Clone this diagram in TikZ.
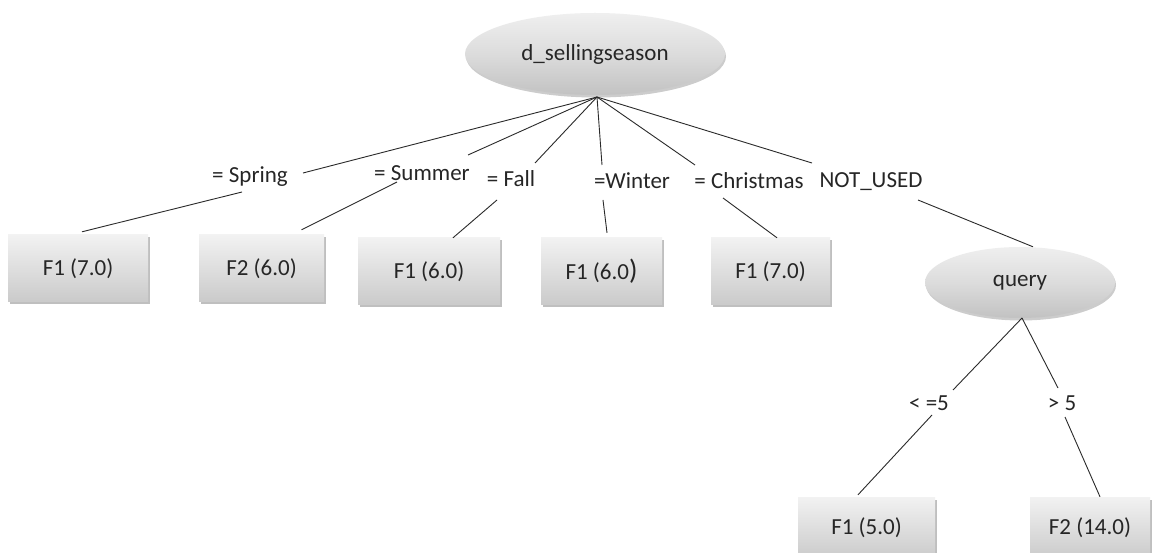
\documentclass[tikz,border=0pt]{standalone}
\usepackage{fontspec}
\setmainfont{Carlito}
\usetikzlibrary{shapes.geometric,shadows}
\definecolor{boxtop}{HTML}{F2F2F2}
\definecolor{boxbot}{HTML}{CACACA}
\definecolor{elltop}{HTML}{EFEFEF}
\definecolor{ellmid}{HTML}{DCDCDC}
\definecolor{ellbot}{HTML}{C2C2C2}
\definecolor{edgecol}{HTML}{2A2A2A}
\tikzset{
  txt/.style={font=\fontsize{23}{27}\selectfont, text=black!85},
  leaf/.style={txt, rectangle, inner sep=0pt, minimum height=67pt,
    top color=boxtop, bottom color=boxbot,
    drop shadow={shadow xshift=1.5pt, shadow yshift=-2.5pt, opacity=0.25, fill=black}},
  decision/.style={txt, ellipse, inner sep=0pt,
    top color=elltop, bottom color=ellbot, middle color=ellmid,
    drop shadow={shadow xshift=1pt, shadow yshift=-2.5pt, opacity=0.2, fill=black}},
  cond/.style={txt, anchor=base, inner sep=0pt},
  edge/.style={draw=edgecol, line width=0.9pt}
}
\begin{document}
\begin{tikzpicture}[x=1pt, y=-1pt]
\useasboundingbox (0,0) rectangle (1154,553);
\fill[white] (0,0) rectangle (1154,553);
\clip (0,0) rectangle (1154,553);

% decision nodes
\node[decision, minimum width=260pt, minimum height=82pt] (root) at (595,54) {d\_sellingseason};
\node[decision, minimum width=190pt, minimum height=71pt] (query) at (1020,282.5) {query};
\coordinate (hub) at (597,97);
\coordinate (qhub) at (1022,318);

% leaves
\node[leaf, minimum width=140pt] (l1) at (78,268.5) {F1 (7.0)};
\node[leaf, minimum width=125pt] (l2) at (261.5,268.5) {F2 (6.0)};
\node[leaf, minimum width=142pt] (l3) at (429,271.5) {F1 (6.0)};
\node[leaf, minimum width=121pt] (l4) at (601.5,271.5) {F1 (6.0{\fontsize{28}{28}\selectfont)}};
\node[leaf, minimum width=119pt] (l5) at (770.5,271.5) {F1 (7.0)};
\node[leaf, minimum width=137pt, minimum height=62pt] (l6) at (866.5,528) {F1 (5.0)};
\node[leaf, minimum width=120pt, minimum height=62pt] (l7) at (1090,528) {F2 (14.0)};

% branch conditions
\node[cond] (cspring) at (250,183) {= Spring};
\node[cond] (csummer) at (422,181) {= Summer};
\node[cond] (cfall) at (511,187) {= Fall};
\node[cond] (cwinter) at (632,189) {=Winter};
\node[cond] (cxmas) at (749,189) {= Christmas};
\node[cond] (cnot) at (871,188) {NOT\_USED};
\node[cond] (cle) at (929,410) {< =5};
\node[cond] (cgt) at (1062,410) {> 5};

% end points of the edge segments around the condition texts
\coordinate (a1) at (303,173); \coordinate (b1) at (242,192);
\coordinate (a2) at (468,155); \coordinate (b2) at (397,182);
\coordinate (a3) at (535,163); \coordinate (b3) at (497,200);
\coordinate (a4) at (602,165); \coordinate (b4) at (603,200);
\coordinate (a5) at (695,165); \coordinate (b5) at (723,198);
\coordinate (a6) at (812,163); \coordinate (b6) at (918,200);
\coordinate (a7) at (953,390); \coordinate (b7) at (932,415);
\coordinate (a8) at (1058,388); \coordinate (b8) at (1065,417);

% edges
\draw[edge] (hub) -- (a1);  \draw[edge] (b1) -- ([xshift=4pt,yshift=3pt]l1.north);
\draw[edge] (hub) -- (a2);  \draw[edge] (b2) -- ([xshift=40pt,yshift=5pt]l2.north);
\draw[edge] (hub) -- (a3);  \draw[edge] (b3) -- ([xshift=24pt]l3.north);
\draw[edge] (hub) -- (a4);  \draw[edge] (b4) -- ([xshift=5.5pt,yshift=5pt]l4.north);
\draw[edge] (hub) -- (a5);  \draw[edge] (b5) -- ([xshift=6.5pt]l5.north);
\draw[edge] (hub) -- (a6);  \draw[edge] (b6) -- ([xshift=13pt]query.north);
\draw[edge] (qhub) -- (a7); \draw[edge] (b7) -- ([xshift=-8.5pt,yshift=2pt]l6.north);
\draw[edge] (qhub) -- (a8); \draw[edge] (b8) -- ([xshift=10pt]l7.north);
\end{tikzpicture}
\end{document}
